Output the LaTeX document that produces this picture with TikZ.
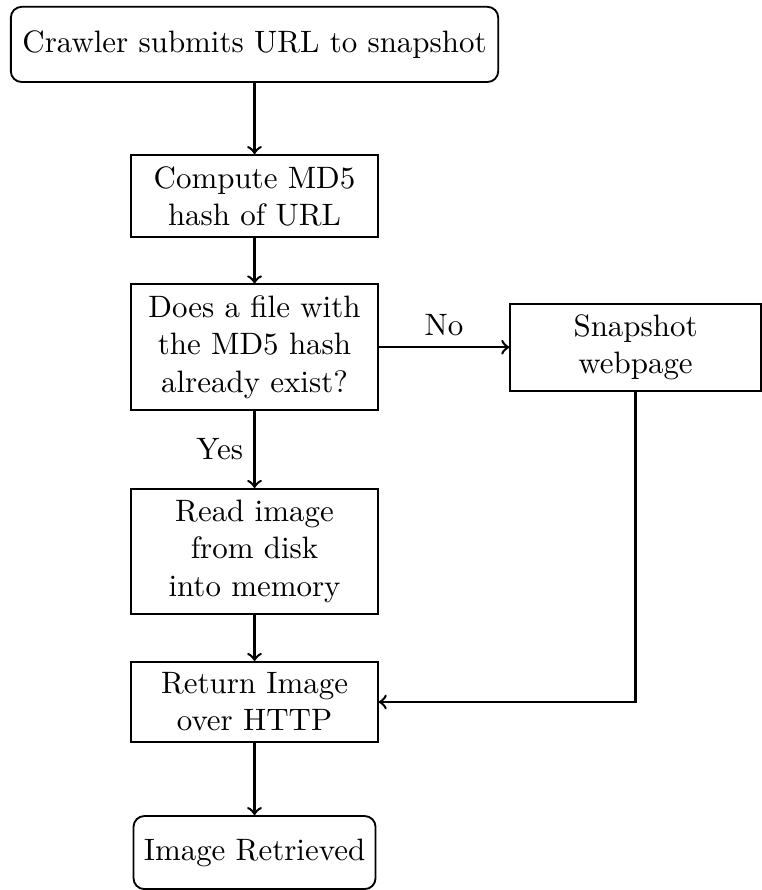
\documentclass[tikz,border=0pt]{standalone}
\usetikzlibrary{positioning}

\begin{document}
\begin{tikzpicture}[
    procbox/.style={draw, semithick, text width=73pt, align=center, minimum width=79.6pt, inner ysep=2pt},
    termbox/.style={draw, semithick, rounded corners=3.5pt, align=center, inner ysep=2pt},
    flow/.style={->, thick}
  ]
  \node[termbox, minimum width=157.5pt, minimum height=24.3pt] (crawl) {Crawler submits URL to snapshot};
  \node[procbox, minimum height=26.5pt, below=23pt of crawl] (md5) {Compute MD5\\hash of URL};
  \node[procbox, minimum height=40.6pt, below=14.7pt of md5] (exists) {Does a file with\\the MD5 hash\\already exist?};
  \node[procbox, text width=74.3pt, minimum width=81pt, minimum height=28.1pt, right=42.2pt of exists] (snap) {Snapshot\\webpage};
  \node[procbox, minimum height=40.3pt, below=24.9pt of exists] (read) {Read image\\from disk\\into memory};
  \node[procbox, minimum height=25.9pt, below=15pt of read] (ret) {Return Image\\over HTTP};
  \node[termbox, minimum width=78pt, minimum height=23.6pt, below=23.3pt of ret] (done) {Image Retrieved};

  \draw[flow] (crawl) -- (md5);
  \draw[flow] (md5) -- (exists);
  \draw[flow] (exists) -- node[above] {No} (snap);
  \draw[flow] (exists) -- node[left] {Yes} (read);
  \draw[flow] (read) -- (ret);
  \draw[flow] (snap) |- (ret);
  \draw[flow] (ret) -- (done);

  %\draw[dashed] (snap.north east) -- (snap.south east);
  \path[use as bounding box] (crawl.north west) ++(-3.2pt,1.9pt) rectangle ++(241.9pt,-284.3pt);
\end{tikzpicture}
\end{document}
